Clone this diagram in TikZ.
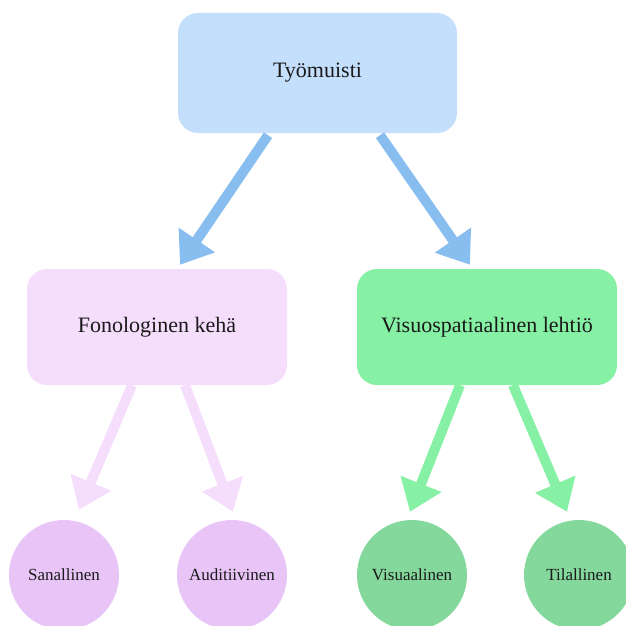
\documentclass[tikz,border=0pt]{standalone}
\usepackage{fontspec}
\setmainfont{Liberation Serif}
\usetikzlibrary{arrows.meta,calc}
\definecolor{boxblue}{HTML}{C4DFFB}
\definecolor{boxpink}{HTML}{F5DDFC}
\definecolor{boxgreen}{HTML}{86F0A4}
\definecolor{circpink}{HTML}{E8C4F7}
\definecolor{circgreen}{HTML}{84D89C}
\definecolor{arrblue}{HTML}{88BDF0}
\definecolor{txt}{HTML}{1A1A1A}
\tikzset{
  bigbox/.style={rounded corners=20pt, minimum width=#1, inner sep=0pt, text=txt, font=\fontsize{22}{26}\selectfont},
  leaf/.style={circle, minimum size=110pt, inner sep=0pt, text=txt, font=\fontsize{17}{20}\selectfont},
  conn/.style={line width=10pt, -{Triangle[length=30pt,width=42pt]}, shorten >=0pt}
}
\begin{document}
\begin{tikzpicture}[x=1pt,y=-1pt]
\path[use as bounding box] (0,0) rectangle (625,626);
\node[bigbox=279pt, minimum height=120pt, fill=boxblue] (top) at (317.5,73) {Työmuisti};
\node[bigbox=260pt, minimum height=116pt, fill=boxpink] (fon) at (157,327) {Fonologinen kehä};
\node[bigbox=260pt, minimum height=116pt, fill=boxgreen] (vis) at (487,327) {Visuospatiaalinen lehtiö};
\node[leaf, fill=circpink] (s1) at (64,575) {Sanallinen};
\node[leaf, fill=circpink] (a1) at (232,575) {Auditiivinen};
\node[leaf, fill=circgreen] (v1) at (412,575) {Visuaalinen};
\node[leaf, fill=circgreen] (t1) at (579,575) {Tilallinen};
\draw[conn, arrblue] ($(top.south)+(-49.5,2)$) -- ($(fon.north)+(23,-4)$);
\draw[conn, arrblue] ($(top.south)+(62.5,2)$) -- ($(vis.north)+(-17,-4)$);
\draw[conn, boxpink] ($(fon.south)+(-25,0)$) -- ($(s1.north)+(15,-10)$);
\draw[conn, boxpink] ($(fon.south)+(28,0)$) -- ($(a1.north)+(1,-8)$);
\draw[conn, boxgreen] ($(vis.south)+(-27,0)$) -- ($(v1.north)+(-2,-8)$);
\draw[conn, boxgreen] ($(vis.south)+(26,0)$) -- ($(t1.north)+(-12,-8)$);
\end{tikzpicture}
\end{document}
